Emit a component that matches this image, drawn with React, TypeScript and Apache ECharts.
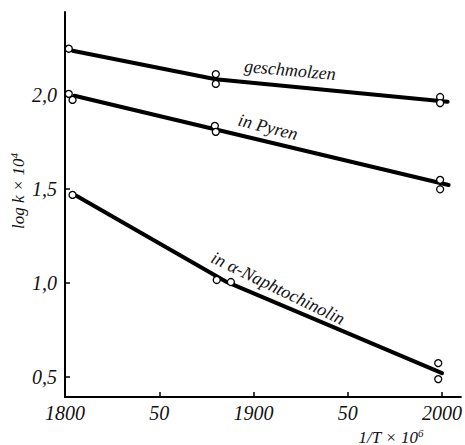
import React, { useEffect, useRef } from "react";
import * as echarts from "echarts";

// Tick values
const X_TICKS = [1800, 1850, 1900, 1950, 2000];
const X_TICK_LABELS = ["1800", "50", "1900", "50", "2000"];
const Y_TICKS = [0.5, 1.0, 1.5, 2.0];

// Fitted lines (x = 1/T × 10^6, y = log k × 10^4)
const geschmolzenLine = [[1804, 2.234], [1880, 2.083], [2003, 1.963]];
const pyrenLine = [[1805, 1.995], [2003.5, 1.521]];
const naphtoLine = [[1806, 1.463], [1886, 1.004], [2000, 0.521]];

// Measured points (open circles)
const geschmolzenPts = [[1802, 2.245], [1880, 2.11], [1880, 2.058], [1999, 1.988], [1999, 1.956]];
const pyrenPts = [[1802, 2.005], [1804, 1.973], [1879.5, 1.835], [1880, 1.803], [1999, 1.548], [1999, 1.498]];
const naphtoPts = [[1804, 1.468], [1880.5, 1.016], [1888, 1.005], [1998, 0.574], [1998, 0.489]];

const SERIF = '"Liberation Serif", "DejaVu Serif", serif';

export default function App() {
  const ref = useRef<HTMLDivElement>(null);
  useEffect(() => {
    if (!ref.current) return;
    const chart = echarts.init(ref.current, null, { renderer: "svg" });
    const lineSeries = (data: number[][]) => ({
      type: "line",
      data,
      symbol: "none",
      z: 2,
      lineStyle: { color: "#000", width: 4, cap: "round" },
    });
    const ptSeries = (data: number[][]) => ({
      type: "scatter",
      data,
      symbol: "circle",
      symbolSize: 7,
      z: 3,
      itemStyle: { color: "#fff", borderColor: "#000", borderWidth: 1.3, opacity: 1 },
    });
    chart.setOption({
      animation: false,
      backgroundColor: "#fff",
      grid: { left: 65, top: 12, right: 3, bottom: 48, containLabel: false },
      xAxis: {
        type: "value",
        min: 1800,
        max: 2010,
        axisLine: { show: true, onZero: false, lineStyle: { color: "#000", width: 2 } },
        axisTick: { show: true, inside: true, length: 5, lineStyle: { color: "#000", width: 1.5 }, customValues: X_TICKS },
        axisLabel: {
          customValues: X_TICKS,
          formatter: (v: number) => X_TICK_LABELS[X_TICKS.indexOf(Math.round(v))] ?? "",
          fontFamily: SERIF,
          fontStyle: "italic",
          fontSize: 20,
          color: "#111",
          margin: 6,
        },
        splitLine: { show: false },
      },
      yAxis: {
        type: "value",
        min: 0.394,
        max: 2.44,
        axisLine: { show: true, onZero: false, lineStyle: { color: "#000", width: 2 } },
        axisTick: { show: true, inside: true, length: 5, lineStyle: { color: "#000", width: 1.5 }, customValues: Y_TICKS },
        axisLabel: {
          customValues: Y_TICKS,
          formatter: (v: number) => v.toFixed(1).replace(".", ","),
          fontFamily: SERIF,
          fontStyle: "italic",
          fontSize: 20,
          color: "#111",
          margin: 8,
        },
        splitLine: { show: false },
      },
      series: [
        lineSeries(geschmolzenLine),
        lineSeries(pyrenLine),
        lineSeries(naphtoLine),
        ptSeries(geschmolzenPts),
        ptSeries(pyrenPts),
        ptSeries(naphtoPts),
      ],
      graphic: [
        {
          type: "text",
          x: 290,
          y: 70,
          rotation: -0.09,
          style: { text: "geschmolzen", font: `italic 18px ${SERIF}`, fill: "#111", textAlign: "center", textVerticalAlign: "middle" },
        },
        {
          type: "text",
          x: 268,
          y: 127,
          rotation: -0.25,
          style: { text: "in Pyren", font: `italic 18px ${SERIF}`, fill: "#111", textAlign: "center", textVerticalAlign: "middle" },
        },
        {
          type: "text",
          x: 278,
          y: 288,
          rotation: -0.45,
          style: { text: "in α-Naphtochinolin", font: `italic 18px ${SERIF}`, fill: "#111", textAlign: "center", textVerticalAlign: "middle" },
        },
        {
          type: "text",
          x: 18,
          y: 191,
          rotation: Math.PI / 2,
          style: {
            text: "log k × 10{sup|4}",
            font: `italic 17px ${SERIF}`,
            fill: "#111",
            textAlign: "center",
            textVerticalAlign: "middle",
            rich: { sup: { fontSize: 11, fontStyle: "italic", fontFamily: SERIF, verticalAlign: "top", padding: [0, 0, 8, 0] } },
          },
        },
        {
          type: "text",
          x: 391,
          y: 437,
          style: {
            text: "1/T × 10{sup|6}",
            font: `italic 17px ${SERIF}`,
            fill: "#111",
            textAlign: "center",
            textVerticalAlign: "middle",
            rich: { sup: { fontSize: 11, fontStyle: "italic", fontFamily: SERIF, verticalAlign: "top", padding: [0, 0, 8, 0] } },
          },
        },
      ],
    });
    return () => chart.dispose();
  }, []);
  return <div ref={ref} style={{ position: "absolute", left: 0, top: 0, width: 465, height: 445 }} />;
}
